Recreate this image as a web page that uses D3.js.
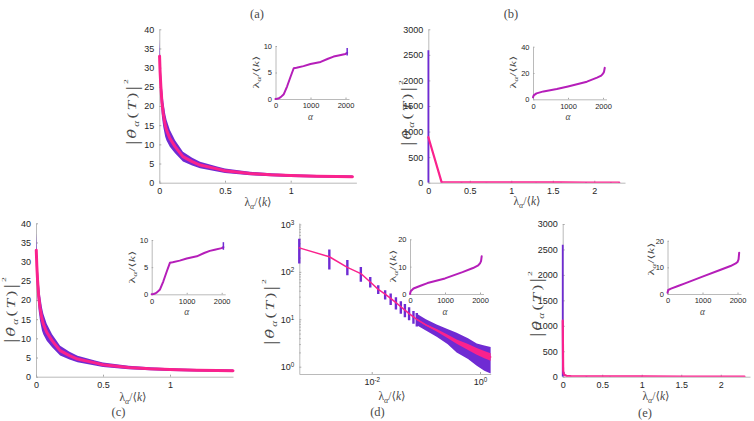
<!DOCTYPE html>
<html>
<head>
<meta charset="utf-8">
<script src="https://cdn.jsdelivr.net/npm/d3@7"></script>
<style>
  body { margin: 0; background: #fff; }
  svg  { display: block; }
</style>
</head>
<body>
<svg id="fig" width="754" height="421"></svg>
<script>
// ── data ────────────────────────────────────────────────────────────────────
// (a) and (c): |θ̂α(T)|² against λα/⟨k⟩, mean and error half-width
const lamA   = [0.002, 0.006, 0.012, 0.02, 0.03, 0.045, 0.055, 0.08, 0.12, 0.18, 0.25, 0.31, 0.44, 0.5, 0.69, 0.85, 1.0, 1.2, 1.35, 1.47];
const thetaA = [33, 29, 25, 21, 18, 15, 13.7, 11.6, 9.4, 6.8, 5.5, 4.6, 3.6, 3.1, 2.4, 2.05, 1.85, 1.7, 1.62, 1.58];
const errA   = [4.6, 4.5, 4.2, 3.8, 3.4, 3.0, 2.7, 2.2, 1.7, 1.3, 1.0, 0.85, 0.65, 0.6, 0.45, 0.4, 0.35, 0.32, 0.3, 0.3];

// (b)
const lamB   = [0.001, 0.16, 0.4, 0.7, 1.0, 1.3, 1.6, 1.9, 2.2, 2.3];
const thetaB = [890, 12, 9, 7, 6, 5, 5, 4, 4, 4];
const errB   = [1700, 6, 5, 4, 4, 3, 3, 3, 3, 3];

// (e)
const lamE   = [0.0005, 0.006, 0.012, 0.025, 0.05, 0.1, 0.3, 0.6, 1.0, 1.5, 2.0, 2.3];
const thetaE = [1100, 120, 60, 30, 18, 12, 8, 6, 5, 4, 4, 4];
const errE   = [1490, 60, 30, 15, 8, 5, 4, 3, 3, 2, 2, 2];

// (d) log-log: separate error bars at small λ ...
const lamD   = [4.6e-4, 1.65e-3, 3.55e-3, 6.3e-3, 9.4e-3, 0.0132, 0.0177, 0.0224, 0.028, 0.0345, 0.041, 0.049, 0.059, 0.068];
const thetaD = [320, 208, 124, 92, 61, 42.6, 34, 27.5, 22.4, 18.4, 15.6, 13.2, 11.2, 10];
const loD    = [150, 112, 85, 62, 47, 34, 26, 20, 16, 13, 11, 9.5, 8, 7];
const hiD    = [500, 295, 178, 127, 78, 52, 41, 35, 29, 24, 21, 18, 15, 13.5];
// ... and a dense cloud further right
const lamDd    = [0.068, 0.1, 0.158, 0.25, 0.37, 0.6, 0.87, 1.2, 1.57];
const thetaDd  = [10, 7.6, 5.9, 4.4, 3.4, 2.6, 2.1, 1.8, 1.6];
const loDd     = [7.5, 5.8, 4.3, 3.0, 2.0, 1.45, 1.05, 0.82, 0.72];
const hiDd     = [13, 10, 7.8, 6.2, 5.2, 4.0, 3.1, 2.8, 2.6];
const pinkLoDd = [9.7, 7.3, 5.55, 4.05, 3.05, 2.25, 1.78, 1.5, 1.33];
const pinkHiDd = [10.3, 7.9, 6.25, 4.8, 3.75, 3.0, 2.48, 2.15, 1.93];

// insets: λα/⟨k⟩ against α
const alphaA = [0, 50, 100, 150, 237, 333, 430, 520, 600, 800, 1000, 1290, 1500, 1660, 1800, 2000, 2048];
const insA   = [0, 0.05, 0.15, 0.35, 0.9, 2.4, 4.2, 5.8, 5.9, 6.2, 6.6, 7.0, 7.6, 8.0, 8.2, 8.5, 8.7];
const barA   = [8.2, 9.6];   // error bar at the last α
const alphaB = [0, 20, 100, 300, 680, 1000, 1540, 1830, 1950, 2000, 2030, 2050];
const insB   = [1.5, 3, 4.5, 6, 7.8, 9.8, 13.4, 16.5, 18, 19.5, 21, 24];
const alphaD = [0, 20, 100, 300, 500, 1000, 1500, 1800, 1950, 2000, 2030, 2048];
const insD   = [0, 1, 2, 3, 4, 5.7, 8, 9.5, 10.5, 11.2, 12, 13.8];
const insE   = [0.5, 1.5, 2, 3, 4, 6.5, 9, 10.5, 11.5, 12, 13, 15.5];

// ── style ──────────────────────────────────────────────────────────────────
const PURPLE = '#6f2bd3', PINK = '#fa228d', INSET = '#b51eb9';
const AXIS = '#a8a8a8', INK = '#262626', LABEL = '#4a4a4a';
const SANS  = '"Liberation Sans", Arial, sans-serif';
const SERIF = '"Liberation Serif", "DejaVu Serif", serif';

const svg = d3.select('#fig');
let clipN = 0;

function styleAxis(g, fs) {
  g.select('.domain').attr('stroke', AXIS).attr('stroke-width', 0.8);
  g.selectAll('.tick line').attr('stroke', AXIS);
  g.selectAll('.tick text').attr('font-family', SANS).attr('font-size', fs).attr('fill', INK);
}

function pow10Labels(g) {
  g.selectAll('.tick text').each(function(d) {
    const e = Math.round(Math.log10(d));
    const t = d3.select(this).text('10');
    t.append('tspan').attr('dy', '-0.5em').attr('font-size', '0.7em').text(String(e));
  });
}

// λα/⟨k⟩
function lamLabel(g, fs) {
  const t = g.append('text').attr('text-anchor', 'middle')
    .attr('font-family', SERIF).attr('font-size', fs).attr('fill', LABEL);
  t.append('tspan').text('λ');
  t.append('tspan').attr('font-size', fs * 0.7).attr('dy', fs * 0.25).attr('font-style', 'italic').text('α');
  t.append('tspan').attr('dy', -fs * 0.25).text('/⟨');
  t.append('tspan').attr('font-style', 'italic').text('k');
  t.append('tspan').text('⟩');
  return t;
}

// |θ̂α(T)|²  (the original is drawn stretched along its length)
function thetaLabel(g, fs) {
  const t = g.append('text').attr('text-anchor', 'middle')
    .attr('font-family', SERIF).attr('font-size', fs).attr('fill', LABEL)
    .attr('letter-spacing', 1.6);
  t.append('tspan').attr('font-size', fs * 1.3).attr('dy', fs * 0.12).text('|');
  t.append('tspan').attr('font-family', '"DejaVu Serif", serif').attr('font-size', fs * 0.9)
    .attr('font-style', 'italic').attr('dy', -fs * 0.12).text('θ\u0302');
  t.append('tspan').attr('font-size', fs * 0.65).attr('font-style', 'italic').attr('dy', fs * 0.25).text('α');
  t.append('tspan').attr('dy', -fs * 0.25).text('(');
  t.append('tspan').attr('font-style', 'italic').text('T');
  t.append('tspan').text(')');
  t.append('tspan').attr('font-size', fs * 1.3).attr('dy', fs * 0.12).text('|');
  t.append('tspan').attr('font-size', fs * 0.55).attr('dy', -fs * 0.75).text('2');
  return t;
}

// ── main panel ─────────────────────────────────────────────────────────────
function mainPanel(p) {
  const x = (p.logX ? d3.scaleLog() : d3.scaleLinear()).domain(p.xDom).range([p.left, p.right]);
  const y = (p.logY ? d3.scaleLog() : d3.scaleLinear()).domain(p.yDom).range([p.bottom, p.top]).clamp(true);
  const g = svg.append('g');

  const gx = g.append('g').attr('transform', `translate(0,${p.bottom})`)
    .call(d3.axisBottom(x).tickValues(p.xTicks).tickFormat(d => d)
      .tickSizeInner(-2).tickSizeOuter(0).tickPadding(5));
  styleAxis(gx, 9);
  const gy = g.append('g').attr('transform', `translate(${p.left},0)`)
    .call(d3.axisLeft(y).tickValues(p.yTicks).tickFormat(d => d)
      .tickSizeInner(-2).tickSizeOuter(0).tickPadding(5));
  styleAxis(gy, 9);
  if (p.logX) pow10Labels(gx);
  if (p.logY) {
    pow10Labels(gy);
    const gm = g.append('g').attr('transform', `translate(${p.left},0)`)
      .call(d3.axisLeft(y).tickValues(p.yMinor).tickFormat('').tickSizeInner(-1.5).tickSizeOuter(0));
    gm.select('.domain').remove();
    gm.selectAll('.tick line').attr('stroke', AXIS);
  }

  const id = 'clip' + (clipN++);
  g.append('clipPath').attr('id', id).append('rect')
    .attr('x', p.left - 2).attr('y', p.top - 6).attr('width', p.right - p.left + 6).attr('height', p.bottom - p.top + 6);
  const data = g.append('g').attr('clip-path', `url(#${id})`);

  // title, axis labels
  g.append('text').attr('x', p.title[1]).attr('y', p.title[2]).attr('text-anchor', 'middle')
    .attr('font-family', SERIF).attr('font-size', 12.5).attr('fill', LABEL).text(p.title[0]);
  lamLabel(g.append('g').attr('transform', `translate(${p.xLab[0]},${p.xLab[1]})`), 11.5);
  thetaLabel(g.append('g').attr('transform', `translate(${p.yLab[0]},${p.yLab[1]}) rotate(-90) scale(1.35,1)`), 13);

  return { x, y, data };
}

function band(sel, x, y, xs, lo, hi, fill) {
  sel.append('path').datum(xs.map((v, i) => [v, lo[i], hi[i]]))
    .attr('fill', fill)
    .attr('d', d3.area().x(d => x(d[0])).y0(d => y(d[1])).y1(d => y(d[2])));
}
function line(sel, x, y, xs, ys, stroke, w) {
  sel.append('path').datum(xs.map((v, i) => [v, ys[i]]))
    .attr('fill', 'none').attr('stroke', stroke).attr('stroke-width', w)
    .attr('stroke-linejoin', 'round').attr('stroke-linecap', 'round')
    .attr('d', d3.line().x(d => x(d[0])).y(d => y(d[1])));
}
function errBars(sel, x, y, xs, lo, hi, w) {
  sel.selectAll(null).data(xs.map((v, i) => [v, lo[i], hi[i]])).enter().append('line')
    .attr('x1', d => x(d[0])).attr('x2', d => x(d[0]))
    .attr('y1', d => y(d[1])).attr('y2', d => y(d[2]))
    .attr('stroke', PURPLE).attr('stroke-width', w);
}

// ── inset ──────────────────────────────────────────────────────────────────
function inset(p) {
  const x = d3.scaleLinear().domain([0, 2100]).range([p.left, p.left + 73.5]);
  const y = d3.scaleLinear().domain([0, p.yMax]).range([p.bottom, p.top]);
  const g = svg.append('g');
  const gx = g.append('g').attr('transform', `translate(0,${p.bottom})`)
    .call(d3.axisBottom(x).tickValues([0, 1000, 2000]).tickFormat(d => d)
      .tickSizeInner(-1.5).tickSizeOuter(0).tickPadding(4));
  styleAxis(gx, 7.5);
  const gy = g.append('g').attr('transform', `translate(${p.left},0)`)
    .call(d3.axisLeft(y).tickValues(p.yTicks).tickFormat(d => d)
      .tickSizeInner(-1.5).tickSizeOuter(0).tickPadding(3.5));
  styleAxis(gy, 7.5);

  line(g, x, y, p.xs, p.ys, INSET, 2);
  if (p.bar) {
    const xe = x(p.xs[p.xs.length - 1]);
    g.append('line').attr('x1', xe).attr('x2', xe).attr('y1', y(p.bar[0])).attr('y2', y(p.bar[1]))
      .attr('stroke', PURPLE).attr('stroke-width', 1.5);
  }
  g.append('text').attr('x', p.left + 35).attr('y', p.bottom + 21).attr('text-anchor', 'middle')
    .attr('font-family', SERIF).attr('font-style', 'italic').attr('font-size', 9.5).attr('fill', LABEL).text('α');
  lamLabel(g.append('g').attr('transform', `translate(${p.yLab[0]},${p.yLab[1]}) rotate(-90)`), 8.5)
    .attr('textLength', 33).attr('lengthAdjust', 'spacingAndGlyphs');
}

// ── (a) ────────────────────────────────────────────────────────────────────
{
  const P = mainPanel({ left: 159.3, right: 356.4, top: 29.3, bottom: 182.7,
    xDom: [0, 1.5], yDom: [0, 40], xTicks: [0, 0.5, 1], yTicks: d3.range(0, 41, 5),
    title: ['(a)', 257, 17.5], xLab: [258, 206], yLab: [136, 111] });
  band(P.data, P.x, P.y, lamA, thetaA.map((v, i) => v - errA[i]), thetaA.map((v, i) => v + errA[i]), PURPLE);
  line(P.data, P.x, P.y, lamA, thetaA, PINK, 3);
  inset({ left: 275.5, top: 46, bottom: 99, yMax: 10, yTicks: [0, 5, 10],
    xs: alphaA, ys: insA, bar: barA, yLab: [259, 72] });
}
// ── (b) ────────────────────────────────────────────────────────────────────
{
  const P = mainPanel({ left: 428.3, right: 625, top: 29.3, bottom: 182.7,
    xDom: [0, 2.37], yDom: [0, 3000], xTicks: [0, 0.5, 1, 1.5, 2], yTicks: d3.range(0, 3001, 500),
    title: ['(b)', 511, 17.5], xLab: [527, 205], yLab: [411, 112] });
  errBars(P.data, P.x, P.y, lamB, thetaB.map((v, i) => v - errB[i]), thetaB.map((v, i) => v + errB[i]), 1.8);
  line(P.data, P.x, P.y, lamB, thetaB, PINK, 2.2);
  inset({ left: 533, top: 46.7, bottom: 99.3, yMax: 40, yTicks: [0, 20, 40],
    xs: alphaB, ys: insB, yLab: [516, 72] });
}
// ── (c) ────────────────────────────────────────────────────────────────────
{
  const P = mainPanel({ left: 36, right: 233, top: 223.3, bottom: 376.7,
    xDom: [0, 1.47], yDom: [0, 40], xTicks: [0, 0.5, 1], yTicks: d3.range(0, 41, 5),
    title: ['(c)', 118.5, 416], xLab: [133, 401], yLab: [14.5, 309] });
  band(P.data, P.x, P.y, lamA, thetaA.map((v, i) => v - errA[i]), thetaA.map((v, i) => v + errA[i]), PURPLE);
  line(P.data, P.x, P.y, lamA, thetaA, PINK, 3);
  inset({ left: 151.7, top: 240, bottom: 294.3, yMax: 10, yTicks: [0, 5, 10],
    xs: alphaA, ys: insA, bar: barA, yLab: [134.5, 267] });
}
// ── (d) ────────────────────────────────────────────────────────────────────
{
  const yMinor = [];
  [1, 10, 100].forEach(b => d3.range(2, 10).forEach(k => yMinor.push(b * k)));
  const P = mainPanel({ left: 299.3, right: 490.7, top: 223, bottom: 374,
    logX: true, logY: true, xDom: [Math.pow(10, -3.337), Math.pow(10, 0.197)], yDom: [Math.pow(10, -0.154), Math.pow(10, 3.03)],
    xTicks: [0.01, 1], yTicks: [1, 10, 100, 1000], yMinor,
    title: ['(d)', 377.5, 416], xLab: [392, 400], yLab: [274, 311] });
  band(P.data, P.x, P.y, lamDd, loDd, hiDd, PURPLE);
  errBars(P.data, P.x, P.y, lamD, loD, hiD, 2.4);
  line(P.data, P.x, P.y, lamD.concat(lamDd.slice(1)), thetaD.concat(thetaDd.slice(1)), PINK, 1.5);
  band(P.data, P.x, P.y, lamDd, pinkLoDd, pinkHiDd, PINK);
  inset({ left: 410, top: 239.3, bottom: 294, yMax: 20, yTicks: [0, 10, 20],
    xs: alphaD, ys: insD, yLab: [396, 266] });
}
// ── (e) ────────────────────────────────────────────────────────────────────
{
  const P = mainPanel({ left: 562.7, right: 750, top: 224, bottom: 376.7,
    xDom: [0, 2.37], yDom: [0, 3000], xTicks: [0, 0.5, 1, 1.5, 2], yTicks: d3.range(0, 3001, 500),
    title: ['(e)', 645, 417], xLab: [656, 400], yLab: [540.5, 303] });
  errBars(P.data, P.x, P.y, lamE, thetaE.map((v, i) => v - errE[i]), thetaE.map((v, i) => v + errE[i]), 1.8);
  line(P.data, P.x, P.y, lamE, thetaE, PINK, 2.2);
  inset({ left: 667.5, top: 240.7, bottom: 294, yMax: 20, yTicks: [0, 10, 20],
    xs: alphaD, ys: insE, yLab: [653.5, 259] });
}
</script>
</body>
</html>
